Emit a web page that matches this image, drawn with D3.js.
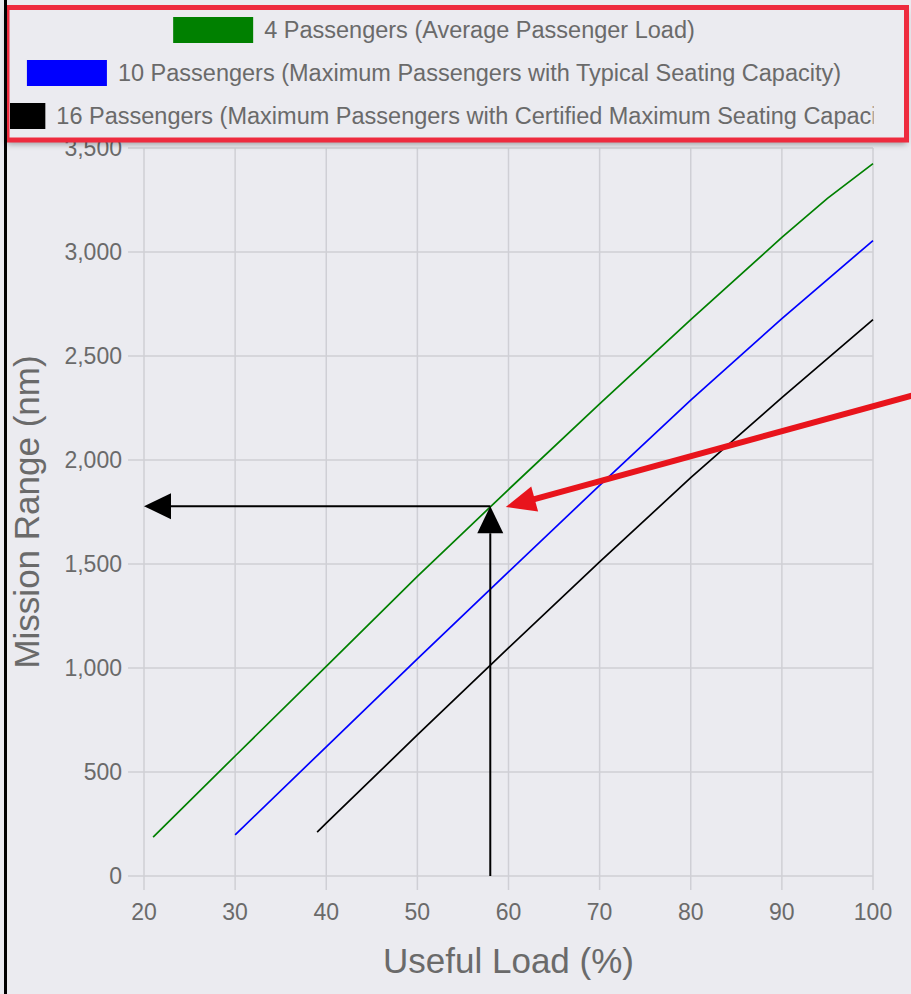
<!DOCTYPE html>
<html>
<head>
<meta charset="utf-8">
<script src="https://cdnjs.cloudflare.com/ajax/libs/d3/7.8.5/d3.min.js"></script>
<style>
  html, body { margin: 0; padding: 0; background: #ebebf0; }
  svg { display: block; }
  text { font-family: "Liberation Sans", Arial, Helvetica, sans-serif; }
</style>
</head>
<body>
<svg id="chart" width="911" height="994"></svg>
<script>
// ---------- data ----------
const seriesNames = [
  "4 Passengers (Average Passenger Load)",
  "10 Passengers (Maximum Passengers with Typical Seating Capacity)",
  "16 Passengers (Maximum Passengers with Certified Maximum Seating Capacity)"
];
const seriesColors = ["#008000", "#0000ff", "#000000"];

const greenLoad  = [21, 30, 40, 50, 60, 70, 80, 90, 95, 100];
const greenRange = [187, 577, 1008, 1440, 1858, 2270, 2675, 3070, 3258, 3425];

const blueLoad  = [30, 40, 50, 60, 70, 80, 90, 100];
const blueRange = [198, 621, 1044, 1462, 1878, 2288, 2680, 3055];

const blackLoad  = [39, 40, 50, 60, 70, 80, 90, 100];
const blackRange = [211, 254, 678, 1097, 1510, 1915, 2300, 2675];

const xTicks = [20, 30, 40, 50, 60, 70, 80, 90, 100];
const yTicks = [0, 500, 1000, 1500, 2000, 2500, 3000, 3500];

const xTitle = "Useful Load (%)";
const yTitle = "Mission Range (nm)";

// annotation (data units)
const markLoad = 58.0, markRange = 1778;     // read point on green curve
const redTail = [104.3, 2310];               // red arrow tail
const redTip  = [59.7, 1774];                // red arrow tip

// ---------- layout ----------
const svg = d3.select("#chart");
const x = d3.scaleLinear().domain([20, 100]).range([144, 873]);
const y = d3.scaleLinear().domain([0, 3500]).range([876, 148]);

const gridColor = "#cfcfd5";
const textColor = "#6a6a6a";

svg.append("rect").attr("width", 911).attr("height", 994).attr("fill", "#ebebf0");

// grid lines
const gGrid = svg.append("g");
gGrid.selectAll("line.h").data(yTicks).join("line")
  .attr("x1", x(20) - 16).attr("x2", x(100))
  .attr("y1", d => y(d)).attr("y2", d => y(d))
  .attr("stroke", gridColor).attr("stroke-width", 1.5);
gGrid.selectAll("line.v").data(xTicks).join("line")
  .attr("x1", d => x(d)).attr("x2", d => x(d))
  .attr("y1", y(3500)).attr("y2", y(0) + 14)
  .attr("stroke", gridColor).attr("stroke-width", 1.5);

// tick labels
svg.append("g").selectAll("text").data(yTicks).join("text")
  .attr("x", x(20) - 22).attr("y", d => y(d)).attr("dy", "0.36em")
  .attr("text-anchor", "end").attr("font-size", 23).attr("fill", textColor)
  .text(d => d3.format(",")(d));
svg.append("g").selectAll("text").data(xTicks).join("text")
  .attr("x", d => x(d)).attr("y", y(0) + 44)
  .attr("text-anchor", "middle").attr("font-size", 23).attr("fill", textColor)
  .text(d => d);

// axis titles
svg.append("text").attr("x", (x(20) + x(100)) / 2).attr("y", 973)
  .attr("text-anchor", "middle").attr("font-size", 35).attr("fill", textColor)
  .text(xTitle);
svg.append("text")
  .attr("transform", `translate(39,${(y(0) + y(3500)) / 2}) rotate(-90)`)
  .attr("text-anchor", "middle").attr("font-size", 35).attr("fill", textColor)
  .text(yTitle);

// series lines
const line = d3.line().x(d => x(d[0])).y(d => y(d[1]));
const series = [
  d3.zip(greenLoad, greenRange),
  d3.zip(blueLoad, blueRange),
  d3.zip(blackLoad, blackRange)
];
svg.append("g").selectAll("path").data(series).join("path")
  .attr("d", line).attr("fill", "none")
  .attr("stroke", (d, i) => seriesColors[i]).attr("stroke-width", 1.7);

// black annotation arrows
const ann = svg.append("g");
const headLen = 27, headHalf = 13;
ann.append("line")
  .attr("x1", x(markLoad)).attr("y1", y(markRange))
  .attr("x2", x(20) + headLen).attr("y2", y(markRange))
  .attr("stroke", "#000").attr("stroke-width", 2);
ann.append("path")
  .attr("d", `M${x(20)},${y(markRange)} L${x(20) + headLen},${y(markRange) - headHalf} L${x(20) + headLen},${y(markRange) + headHalf} Z`)
  .attr("fill", "#000");
ann.append("line")
  .attr("x1", x(markLoad)).attr("y1", y(0))
  .attr("x2", x(markLoad)).attr("y2", y(markRange) + headLen)
  .attr("stroke", "#000").attr("stroke-width", 2);
ann.append("path")
  .attr("d", `M${x(markLoad)},${y(markRange)} L${x(markLoad) - headHalf},${y(markRange) + headLen} L${x(markLoad) + headHalf},${y(markRange) + headLen} Z`)
  .attr("fill", "#000");

// red arrow
{
  const tx = x(redTail[0]), ty = y(redTail[1]);
  const hx = x(redTip[0]), hy = y(redTip[1]);
  const ang = Math.atan2(hy - ty, hx - tx);
  const L = 30, W = 13;
  const bx = hx - L * Math.cos(ang), by = hy - L * Math.sin(ang);
  const px = -Math.sin(ang), py = Math.cos(ang);
  svg.append("line").attr("x1", tx).attr("y1", ty).attr("x2", bx + 4 * Math.cos(ang)).attr("y2", by + 4 * Math.sin(ang))
    .attr("stroke", "#e8141c").attr("stroke-width", 6);
  svg.append("path")
    .attr("d", `M${hx},${hy} L${bx + W * px},${by + W * py} L${bx - W * px},${by - W * py} Z`)
    .attr("fill", "#e8141c");
}

// legend with shadow
const defs = svg.append("defs");
const f = defs.append("filter").attr("id", "shadow").attr("x", "-5%").attr("y", "-10%").attr("width", "110%").attr("height", "130%");
f.append("feDropShadow").attr("dx", 0).attr("dy", 4).attr("stdDeviation", 3).attr("flood-color", "#000").attr("flood-opacity", 0.35);
defs.append("clipPath").attr("id", "legclip").append("rect")
  .attr("x", 10).attr("y", 10).attr("width", 863.5).attr("height", 128);

svg.append("rect").attr("x", 7).attr("y", 7.5).attr("width", 899.5).attr("height", 132.5)
  .attr("fill", "#ebebf0").attr("filter", "url(#shadow)");

const leg = svg.append("g").attr("clip-path", "url(#legclip)");
const rowY = [30, 73, 116];
const boxW = 80, boxH = 26, gap = 11, centerX = 434;
seriesNames.forEach((name, i) => {
  const g = leg.append("g");
  const t = g.append("text").attr("font-size", 23.5).attr("fill", textColor)
    .attr("dy", "0.36em").text(name);
  const tw = t.node().getComputedTextLength();
  const total = boxW + gap + tw;
  const x0 = centerX - total / 2;
  g.insert("rect", "text").attr("x", x0).attr("y", rowY[i] - boxH / 2)
    .attr("width", boxW).attr("height", boxH).attr("fill", seriesColors[i]);
  t.attr("x", x0 + boxW + gap).attr("y", rowY[i]);
});

svg.append("rect").attr("x", 7).attr("y", 7.5).attr("width", 899.5).attr("height", 132.5)
  .attr("fill", "none").attr("stroke", "#ee2b3e").attr("stroke-width", 5);

// left page border
svg.append("line").attr("x1", 5.5).attr("x2", 5.5).attr("y1", 0).attr("y2", 994)
  .attr("stroke", "#000").attr("stroke-width", 3);
</script>
</body>
</html>
